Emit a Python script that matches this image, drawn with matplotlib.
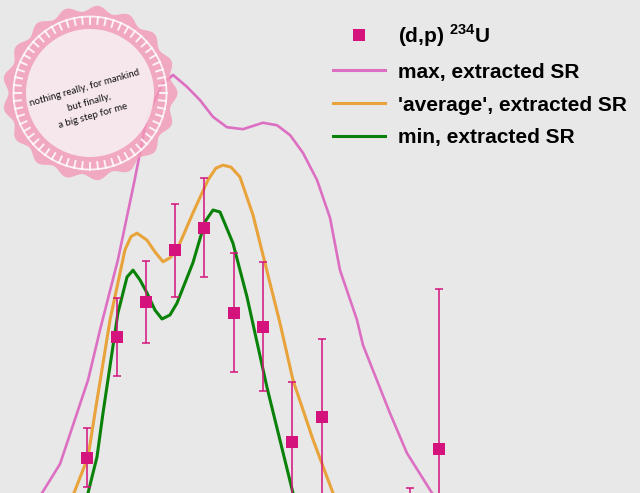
import numpy as np
import matplotlib.pyplot as plt
from matplotlib.lines import Line2D
from matplotlib.patches import Circle, Polygon

plt.rcParams['mathtext.fontset'] = 'custom'
plt.rcParams['mathtext.rm'] = 'Liberation Sans:bold'

# (d,p) 234U data points
e_pts = np.array([4.0, 4.2, 4.4, 4.6, 4.8, 5.0, 5.2, 5.4, 5.6, 6.2, 6.4])
y_pts = np.array([1.72, 4.16, 4.87, 5.92, 6.38, 4.66, 4.37, 2.04, 2.55, 0.40, 1.90])
y_err = np.array([0.60, 0.79, 0.83, 0.95, 1.00, 1.20, 1.31, 1.22, 1.57, 0.70, 3.23])

# max, extracted SR
e_max = np.array([3.691, 3.814, 4.005, 4.087, 4.209, 4.326, 4.407, 4.510, 4.585,
                  4.680, 4.769, 4.858, 4.953, 5.063, 5.199, 5.295, 5.384, 5.472,
                  5.568, 5.657, 5.725, 5.841, 5.882, 6.066, 6.182, 6.353])
y_max = np.array([1.00, 1.59, 3.29, 4.31, 5.73, 7.39, 8.63, 9.28, 9.48,
                  9.24, 8.97, 8.63, 8.42, 8.38, 8.51, 8.46, 8.26, 7.90,
                  7.35, 6.58, 5.52, 4.51, 4.00, 2.62, 1.81, 1.00])

# 'average', extracted SR
e_avg = np.array([3.909, 4.005, 4.052, 4.155, 4.203, 4.257, 4.298, 4.339, 4.407,
                  4.462, 4.517, 4.564, 4.612, 4.721, 4.824, 4.878, 4.926, 4.981,
                  5.042, 5.131, 5.199, 5.315, 5.404, 5.541, 5.677])
y_avg = np.array([1.00, 1.73, 2.62, 4.51, 5.18, 5.93, 6.20, 6.27, 6.13,
                  5.89, 5.69, 5.77, 5.93, 6.68, 7.35, 7.59, 7.65, 7.61,
                  7.41, 6.64, 5.83, 4.45, 3.29, 2.08, 1.00])

# min, extracted SR
e_min = np.array([4.005, 4.066, 4.107, 4.209, 4.271, 4.312, 4.360, 4.407, 4.462,
                  4.510, 4.564, 4.612, 4.721, 4.803, 4.858, 4.906, 4.994, 5.090,
                  5.226, 5.404])
y_min = np.array([1.00, 1.73, 2.62, 4.65, 5.38, 5.52, 5.32, 5.06, 4.71,
                  4.53, 4.61, 4.85, 5.67, 6.50, 6.74, 6.70, 6.07, 4.98,
                  3.15, 1.00])

bg = '#e8e8e8'
c_pts = '#d4137c'
c_max = '#dd6fc3'
c_avg = '#e8a33a'
c_min = '#0a820a'

fig = plt.figure(figsize=(6.4, 4.93), dpi=100, facecolor=bg)
ax = fig.add_axes([0, 0, 1, 1], facecolor=bg)
ax.plot(e_max, y_max, color=c_max, lw=1.9)
ax.plot(e_avg, y_avg, color=c_avg, lw=2.2)
ax.plot(e_min, y_min, color=c_min, lw=2.2)
ax.errorbar(e_pts, y_pts, yerr=y_err, fmt='none', ecolor=c_pts,
            elinewidth=1.1, capsize=2.6, capthick=1.1)
ax.plot(e_pts, y_pts, 's', color=c_pts, ms=8.6, mew=0)
ax.set_xlim(3.404, 7.773)
ax.set_ylim(1, 11)
ax.axis('off')

handles = [Line2D([], [], marker='s', ls='none', color=c_pts, ms=8.6, mew=0),
           Line2D([], [], color=c_max, lw=2.2),
           Line2D([], [], color=c_avg, lw=2.2),
           Line2D([], [], color=c_min, lw=2.2)]
labels = ['(d,p) $^{234}$U', 'max, extracted SR', "'average', extracted SR",
          'min, extracted SR']
ax.legend(handles, labels, loc='upper left', bbox_to_anchor=(333 / 640, 1 - 22 / 493),
          frameon=False, handlelength=2.5, handletextpad=0.6, labelspacing=0.67,
          borderaxespad=0, borderpad=0,
          prop={'family': 'Liberation Sans', 'weight': 'bold', 'size': 15})

# badge in pixel units
bx = fig.add_axes([0, 1 - 186 / 493, 186 / 640, 186 / 493])
bx.set_xlim(0, 186)
bx.set_ylim(186, 0)
bx.axis('off')
cx, cy = 90, 93
th = np.linspace(0, 2 * np.pi, 721)
r = 84.5 + 3.0 * np.cos(17 * th)
bx.add_patch(Polygon(np.c_[cx + r * np.cos(th), cy + r * np.sin(th)],
                     closed=True, fc='#f49ab9', ec='none', alpha=0.82))
bx.add_patch(Circle((cx, cy), 76.5, fc='none', ec='white', lw=1.3, alpha=0.85))
for a in np.linspace(0, 2 * np.pi, 61)[:-1]:
    bx.plot([cx + 69.5 * np.cos(a), cx + 76.5 * np.cos(a)],
            [cy + 69.5 * np.sin(a), cy + 76.5 * np.sin(a)], color='white', lw=1.4, alpha=0.85)
bx.add_patch(Circle((cx, cy), 64, fc='#f6f6f6', ec='none', alpha=0.82))
bx.text(cx - 1, cy + 9, 'nothing really, for mankind\nbut finally,\na big step for me',
        ha='center', va='center', rotation=16, rotation_mode='anchor',
        fontsize=7.0, family='Lato', color='#111111', linespacing=1.8)

fig.savefig('out.png', dpi=100, facecolor=bg)
